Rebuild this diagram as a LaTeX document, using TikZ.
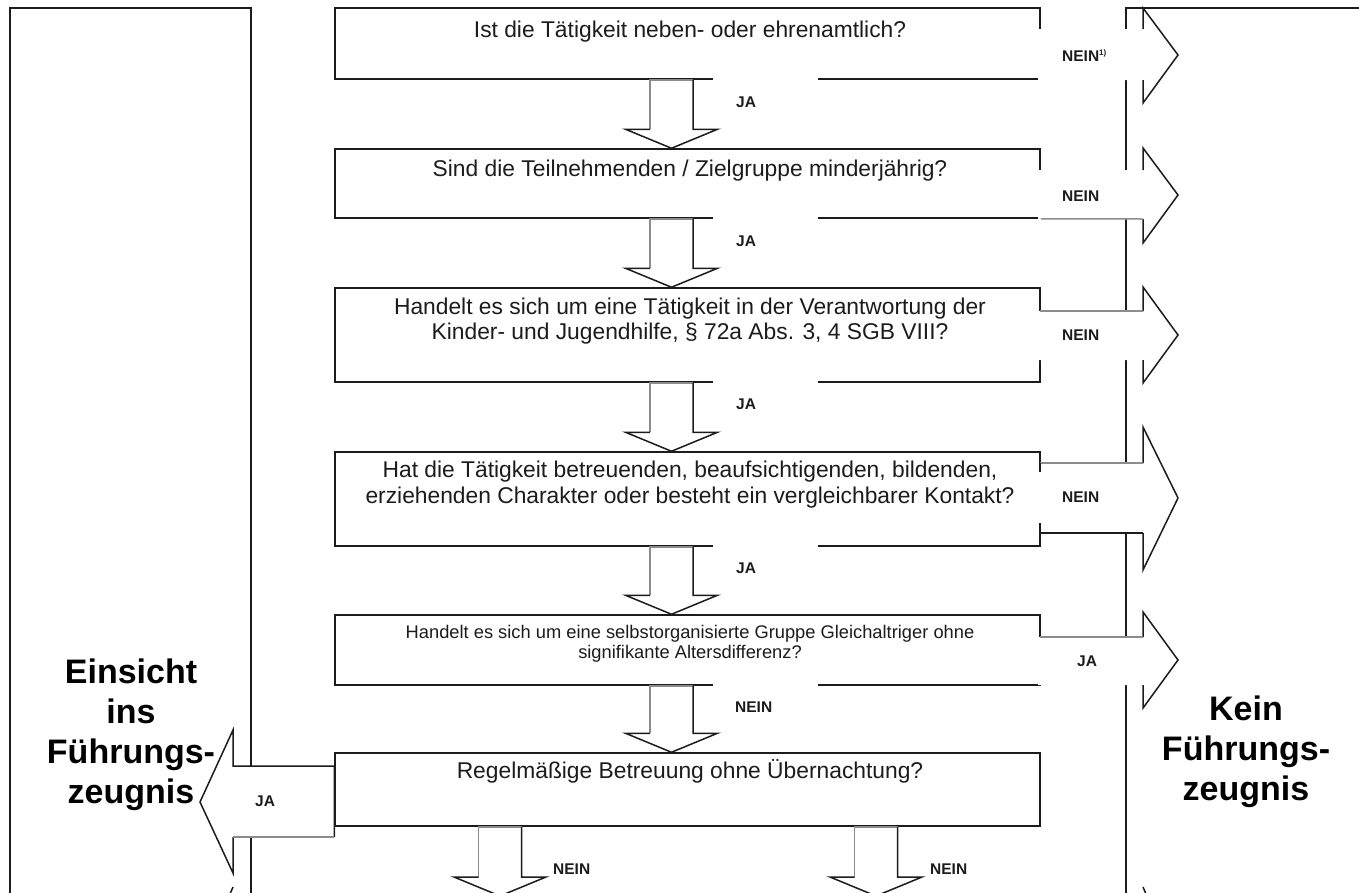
\documentclass[tikz,border=0pt]{standalone}
\usepackage{fontspec}
\setmainfont{Liberation Sans}
\usetikzlibrary{calc}
\definecolor{ink}{HTML}{1C1C1C}
\definecolor{lgray}{HTML}{8C8C8C}
\tikzset{
  ln/.style={draw=ink,line width=1.5pt},
  lg/.style={draw=lgray,line width=1.5pt},
  qbox/.style={draw=ink,line width=1.5pt,fill=white,inner sep=0pt,minimum width=705pt},
  qtext/.style={font=\fontsize{22.8pt}{25pt}\selectfont,text=ink,anchor=base,inner sep=0pt},
  stext/.style={font=\fontsize{18.3pt}{20pt}\selectfont,text=ink,anchor=base,inner sep=0pt},
  lbl/.style={font=\bfseries\fontsize{15.5pt}{18pt}\selectfont,text=ink,anchor=base west,inner sep=0pt},
  big/.style={font=\bfseries\fontsize{34pt}{40pt}\selectfont,text=black,anchor=base,inner sep=0pt},
}
\newcommand\rarrow[5]{%
  \fill[white] (1038,#1) -- (1143,#1) -- (1143,#3) -- (1178,#5) -- (1143,#4) -- (1143,#2) -- (1038,#2) -- cycle;
  \draw[ln] (1143,#1) -- (1143,#3) -- (1178,#5) -- (1143,#4) -- (1143,#2);}
\newcommand\dnarrow[3]{%
  \path (#1 -| #3) coordinate (s) (#2 -| #3) coordinate (t);
  \fill[white] ($(s)+(-21.5,0)$) -- ($(s)+(21.5,0)$) -- ($(t)+(21.5,-19)$) -- ($(t)+(46,-19)$) -- (t) -- ($(t)+(-46,-19)$) -- ($(t)+(-21.5,-19)$) -- cycle;
  \draw[lg] ($(t)+(-21.5,-19)$) -- ($(s)+(-21.5,0)$) -- ($(s)+(21.5,0)$);
  \draw[ln] ($(s)+(21.5,0)$) -- ($(t)+(21.5,-19)$) -- ($(t)+(46,-19)$) -- (t) -- ($(t)+(-46,-19)$) -- ($(t)+(-21.5,-19)$);}
\begin{document}
\begin{tikzpicture}[x=1pt,y=-1pt]
\useasboundingbox[fill=white] (0,0) rectangle (1359,892);
\clip (0,0) rectangle (1359,892);
% side panels
\draw[ln] (10,905) -- (10,8) -- (251,8) -- (251,905);
\draw[ln] (1126,905) -- (1126,8) -- (1370,8);
% question boxes
\node[qbox,minimum height=71pt] (b1) at (687.5,43.5) {};
\node[qbox,minimum height=69pt] (b2) at (687.5,183.5) {};
\node[qbox,minimum height=94pt] (b3) at (687.5,335) {};
\node[qbox,minimum height=94pt] (b4) at (687.5,499) {};
\node[qbox,minimum height=70pt] (b5) at (687.5,650) {};
\node[qbox,minimum height=73pt] (b6) at (687.5,789.5) {};
% label patches under the boxes
\foreach \b in {b1,b2,b3,b4,b5}{
  \fill[white] ($(\b.south)+(25.5,-2)$) rectangle ($(\b.south)+(130.5,40)$);
}
% down arrows
\coordinate (ax) at (671.5,0);
\coordinate (bx1) at (500,0);
\coordinate (bx2) at (876,0);
\coordinate (bend) at (0,896);
\dnarrow{b1.south}{b2.north}{ax}
\dnarrow{b2.south}{b3.north}{ax}
\dnarrow{b3.south}{b4.north}{ax}
\dnarrow{b4.south}{b5.north}{ax}
\dnarrow{b5.south}{b6.north}{ax}
\dnarrow{b6.south}{bend}{bx1}
\dnarrow{b6.south}{bend}{bx2}
% right arrows
\rarrow{29}{80}{8}{103}{55}
\rarrow{170}{219}{148}{243}{195}
\rarrow{311}{360}{287}{383}{335}
\rarrow{463}{533}{427}{570}{498}
\rarrow{637}{685}{612}{708}{660}
\draw[ln] (1126,8) -- (1370,8);
\draw[lg] (b2.south east) -- (1143,219);
\draw[lg] (1040,311) -- (1143,311);
\draw[lg] (1040,463) -- (1143,463);
\draw[ln] (1040,533) -- (1143,533);
\draw[ln] (1040,463) -- (1040,472) (1040,523) -- (1040,533);
\draw[lg] (1040,637) -- (1143,637);
% left arrow
\fill[white] (b6.west |- 0,766) -- (233,766) -- (233,730) -- (200,802) -- (233,873) -- (233,837) -- (b6.west |- 0,837) -- cycle;
\draw[ln] (b6.west |- 0,837) -- (b6.west |- 0,766) -- (233,766) -- (233,730) -- (200,802) -- (233,873) -- (233,837);
\draw[lg] (233,837) -- (b6.west |- 0,837);
\draw[ln] (b6.north west) -- (b6.west |- 0,837);
% cut-off heads at the bottom edge
\draw[ln] (233,887) -- (230,894);
\draw[ln] (1143,887) -- (1146,894);
% question texts
\node[qtext] (t1) at (690,37) {Ist die Tätigkeit neben- oder ehrenamtlich?};
\node[qtext] (t2) at (690,176) {Sind die Teilnehmenden / Zielgruppe minderjährig?};
\node[qtext] (t3a) at (690,314) {Handelt es sich um eine Tätigkeit in der Verantwortung der};
\node[qtext] (t3b) at (690,339) {Kinder- und Jugendhilfe, § 72a Abs. 3, 4 SGB VIII?};
\node[qtext] (t4a) at (690,477) {Hat die Tätigkeit betreuenden, beaufsichtigenden, bildenden,};
\node[qtext] (t4b) at (690,503) {erziehenden Charakter oder besteht ein vergleichbarer Kontakt?};
\node[stext] (t5a) at (690,638) {Handelt es sich um eine selbstorganisierte Gruppe Gleichaltriger ohne};
\node[stext] (t5b) at (690,658) {signifikante Altersdifferenz?};
\node[qtext] (t6) at (690,778) {Regelmäßige Betreuung ohne Übernachtung?};
% answer labels
\node[lbl] (l1) at (736,107) {JA};
\node[lbl] (l2) at (736,246) {JA};
\node[lbl] (l3) at (736,409) {JA};
\node[lbl] (l4) at (736,573) {JA};
\node[lbl] (l5) at (735,712) {NEIN};
\node[lbl] (l6) at (553,874) {NEIN};
\node[lbl] (l7) at (930,874) {NEIN};
\node[lbl] (r1) at (1062,61) {NEIN\textsuperscript{\fontsize{8pt}{9pt}\selectfont 1)}};
\node[lbl] (r2) at (1062,201) {NEIN};
\node[lbl] (r3) at (1062,340) {NEIN};
\node[lbl] (r4) at (1062,502) {NEIN};
\node[lbl] (r5) at (1077,666) {JA};
\node[lbl] (lj) at (255,806) {JA};
% outcome texts
\node[big] (e1) at (131,683) {Einsicht};
\node[big] (e2) at (131,723) {ins};
\node[big] (e3) at (131,763) {Führungs-};
\node[big] (e4) at (131,803) {zeugnis};
\node[big] (k1) at (1246,720) {Kein};
\node[big] (k2) at (1246,760) {Führungs-};
\node[big] (k3) at (1246,800) {zeugnis};
\end{tikzpicture}
\end{document}
